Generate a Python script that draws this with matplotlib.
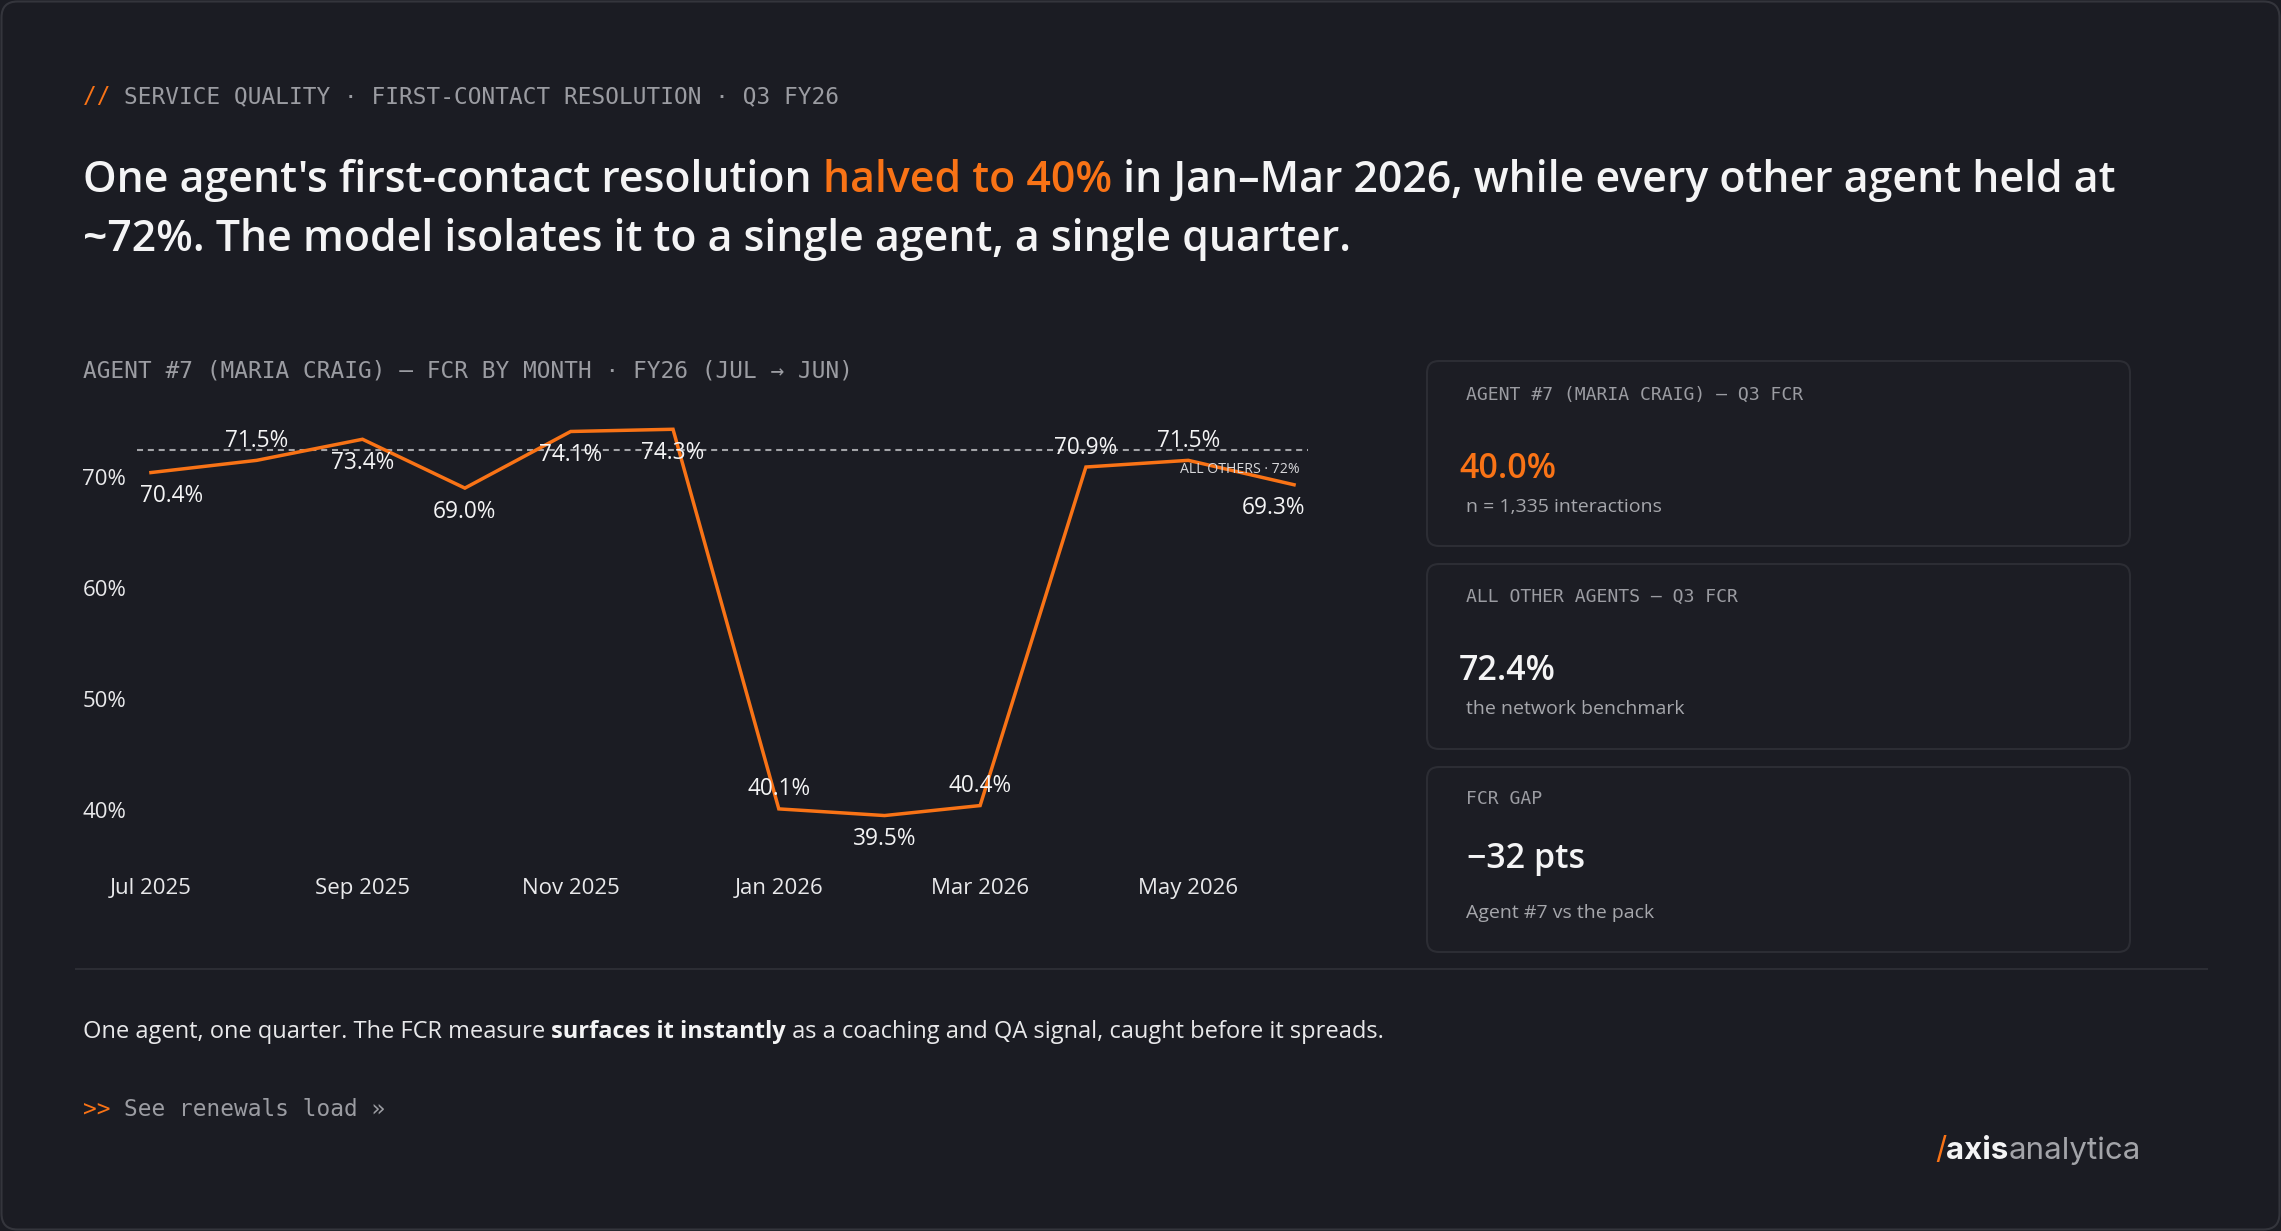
import matplotlib
matplotlib.use("Agg")
import matplotlib.pyplot as plt
import matplotlib.dates as mdates
from matplotlib.patches import FancyBboxPatch
import numpy as np

# data
months = np.array(["2025-07-01", "2025-08-01", "2025-09-01", "2025-10-01",
                   "2025-11-01", "2025-12-01", "2026-01-01", "2026-02-01",
                   "2026-03-01", "2026-04-01", "2026-05-01", "2026-06-01"],
                  dtype="datetime64[D]")
fcr = [70.4, 71.5, 73.4, 69.0, 74.1, 74.3, 40.1, 39.5, 40.4, 70.9, 71.5, 69.3]
others = 72.4
label_side = ["below", "above", "below", "below", "below", "below",
              "above", "below", "above", "above", "above", "below"]
yticks = [40, 50, 60, 70]

card_labels = ["AGENT #7 (MARIA CRAIG) \u2014 Q3 FCR", "ALL OTHER AGENTS \u2014 Q3 FCR", "FCR GAP"]
card_values = ["40.0%", "72.4%", "\u221232 pts"]
card_subs = ["n = 1,335 interactions", "the network benchmark", "Agent #7 vs the pack"]

BG = "#1b1c23"
ORANGE = "#f97316"
WHITE = "#f4f4f5"
GRAY = "#9b9ca2"
MONO = "DejaVu Sans Mono"
SANS = "Open Sans"

W, H = 2281, 1231
fig = plt.figure(figsize=(W / 100, H / 100), dpi=100, facecolor=BG)

# overlay axes in pixel units (y down)
ov = fig.add_axes([0, 0, 1, 1])
ov.set_xlim(0, W)
ov.set_ylim(H, 0)
ov.axis("off")
ov.patch.set_alpha(0)

ov.add_patch(FancyBboxPatch((1.5, 1.5), W - 3, H - 3, boxstyle="round,pad=0,rounding_size=16",
                            facecolor=BG, edgecolor="#34353c", lw=1.5))

renderer = fig.canvas.get_renderer()


def text_width(s, **kw):
    a = ov.text(0, 0, "|" + s + "|", **kw)
    b = ov.text(0, 0, "||", **kw)
    w = a.get_window_extent(renderer).width - b.get_window_extent(renderer).width
    a.remove()
    b.remove()
    return w


def runs(x, y, parts, size, family, va="center"):
    for s, color, weight in parts:
        kw = dict(fontsize=size, family=family, weight=weight)
        ov.text(x, y, s, color=color, va=va, ha="left", **kw)
        x += text_width(s, **kw)


# kicker
runs(83, 96.5, [("// ", ORANGE, "normal"),
                ("SERVICE QUALITY \u00b7 FIRST-CONTACT RESOLUTION \u00b7 Q3 FY26", GRAY, "normal")],
     16.4, MONO)

# headline
runs(83, 192, [("One agent's first-contact resolution ", WHITE, "semibold"),
               ("halved to 40%", ORANGE, "semibold"),
               (" in Jan\u2013Mar 2026, while every other agent held at", WHITE, "semibold")],
     30.8, SANS, va="baseline")
runs(83, 251, [("~72%. The model isolates it to a single agent, a single quarter.", WHITE, "semibold")],
     30.8, SANS, va="baseline")

# chart title
ov.text(83, 371.5, "AGENT #7 (MARIA CRAIG) \u2014 FCR BY MONTH \u00b7 FY26 (JUL \u2192 JUN)",
        fontsize=16.4, family=MONO, color=GRAY, va="center")

# chart
ax = fig.add_axes([137.3 / W, 1 - 854.4 / H, 1170.4 / W, 444 / H])
ax.patch.set_alpha(0)
ax.plot(months, fcr, color=ORANGE, lw=2.5, solid_joinstyle="miter", zorder=3)
ax.axhline(others, color="#a3a4a8", lw=1.5, linestyle=(0, (2.9, 2.3)), zorder=2)
ax.set_xlim(np.datetime64("2025-06-27"), np.datetime64("2026-06-05"))
ax.set_ylim(36, 76)
ax.set_yticks(yticks)
ax.set_yticklabels([f"{v}%" for v in yticks])
ax.xaxis.set_major_locator(mdates.MonthLocator(bymonth=[1, 3, 5, 7, 9, 11]))
ax.xaxis.set_major_formatter(mdates.DateFormatter("%b %Y"))
for s in ax.spines.values():
    s.set_visible(False)
ax.tick_params(length=0, labelsize=16, colors="#e9e9eb")
ax.tick_params(axis="x", pad=17)
ax.tick_params(axis="y", pad=8)
for lab in ax.get_xticklabels() + ax.get_yticklabels():
    lab.set_family(SANS)

n = len(fcr)
for i, (d, v, side) in enumerate(zip(months, fcr, label_side)):
    dy = 14 if side == "above" else -17
    ha, dx = "center", 0
    if i == 0:
        ha, dx = "left", -8
    elif i == n - 1:
        ha, dx = "right", 8
    ax.annotate(f"{v:.1f}%", (d, v), xytext=(dx, dy), textcoords="offset points",
                ha=ha, va="center", fontsize=16.3, family=SANS, color=WHITE, zorder=4)

ax.annotate("ALL OTHERS \u00b7 72%", (1, others), xycoords=("axes fraction", "data"),
            xytext=(-6, -14), textcoords="offset points", ha="right", va="center",
            fontsize=10.2, family=SANS, color="#d8d8db", zorder=4)

# cards
card_tops = [361, 564, 767]
label_y = [394.5, 596.5, 798.5]
value_y = [468.5, 671.5, 858.5]
sub_y = [507.5, 709.5, 912.5]
value_colors = [ORANGE, WHITE, WHITE]
for k in range(3):
    ov.add_patch(FancyBboxPatch((1427, card_tops[k]), 703, 185,
                                boxstyle="round,pad=0,rounding_size=12",
                                facecolor="#1c1d24", edgecolor="#2c2d34", lw=1.5))
    ov.text(1466, label_y[k], card_labels[k], fontsize=13.1, family=MONO, color=GRAY, va="center")
    ov.text(1459 if k < 2 else 1467, value_y[k], card_values[k], fontsize=24.5, family=SANS,
            weight="semibold", color=value_colors[k], va="center")
    ov.text(1466, sub_y[k], card_subs[k], fontsize=14, family=SANS, color="#a6a7ac", va="center")

# separator
ov.plot([76, 2207], [969, 969], color="#2c2d34", lw=1.5)

# footer
runs(83, 1032, [("One agent, one quarter. The FCR measure ", "#e8e8ea", "normal"),
                ("surfaces it instantly", WHITE, "bold"),
                (" as a coaching and QA signal, caught before it spreads.", "#e8e8ea", "normal")],
     17, SANS)

runs(83, 1110, [(">> ", ORANGE, "normal"), ("See renewals load \u00bb", GRAY, "normal")], 16.4, MONO)

runs(1935, 1151, [("/", ORANGE, "normal"), ("axis", WHITE, "bold"), ("analytica", "#a3a4a9", "normal")],
     22.5, "Inter")

fig.savefig("out.png", dpi=100, facecolor=BG)
